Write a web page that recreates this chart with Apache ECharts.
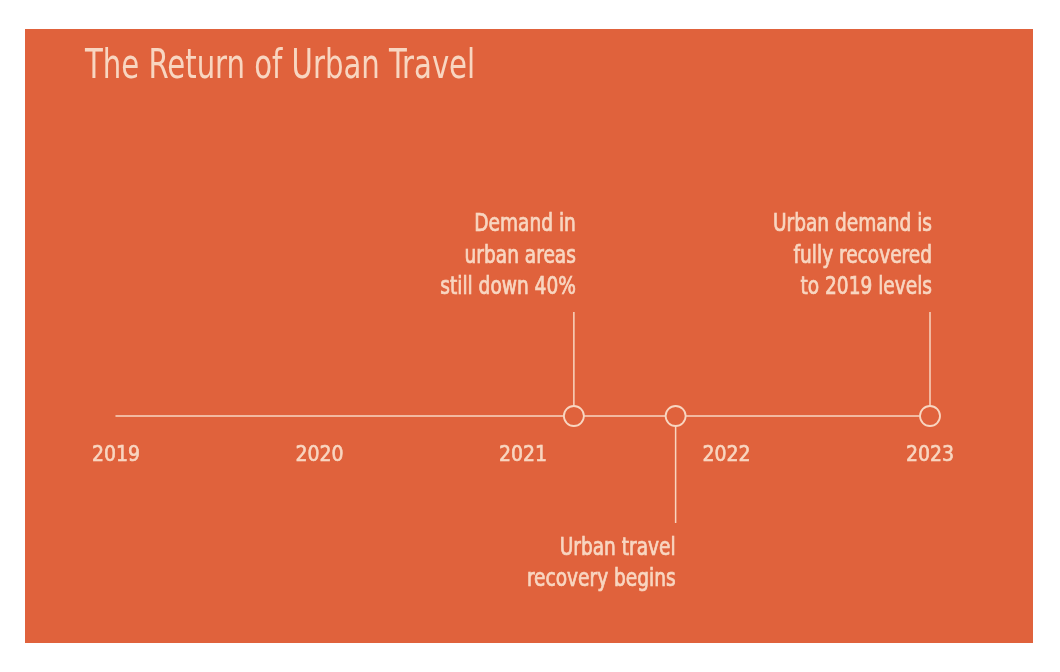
<!DOCTYPE html>
<html>
<head>
<meta charset="utf-8">
<script src="https://cdn.jsdelivr.net/npm/echarts@6/dist/echarts.min.js"></script>
<style>
html,body{margin:0;padding:0;background:#fff;}
#chart{width:1060px;height:672px;}
</style>
</head>
<body>
<div id="chart"></div>
<script>
const titleText = 'The Return of Urban Travel';
const yearTicks = [2019, 2020, 2021, 2022, 2023];
const eventDates = [2021.25, 2021.75, 2023.0];
const eventLabels = [
  'Demand in\nurban areas\nstill down 40%',
  'Urban travel\nrecovery begins',
  'Urban demand is\nfully recovered\nto 2019 levels'
];
const eventSides = ['above', 'below', 'above'];

const ORANGE = '#e0623c';
const CREAM = '#f8d6c1';
const FONT = '"Liberation Sans Narrow", "DejaVu Sans Condensed", sans-serif';

const chart = echarts.init(document.getElementById('chart'));

const eventData = eventDates.map((d, i) => ({ value: [d, 0], label: eventLabels[i], side: eventSides[i] }));

const option = {
  backgroundColor: '#ffffff',
  animation: false,
  graphic: [{
    type: 'rect', z: -10, silent: true,
    shape: { x: 25, y: 29, width: 1008, height: 614 },
    style: { fill: ORANGE }
  }, {
    type: 'text', silent: true, z: 10,
    x: 85, y: 48, scaleX: 0.81,
    style: { text: titleText, x: 0, y: 0, fill: CREAM, font: '40px ' + FONT, align: 'left', verticalAlign: 'top' }
  }],
  grid: { left: 116, right: 1060 - 930, top: 208, height: 208 },
  xAxis: {
    type: 'value',
    min: yearTicks[0], max: yearTicks[yearTicks.length - 1], interval: 1,
    axisLine: { onZero: false, lineStyle: { color: CREAM, width: 1.5 } },
    axisTick: { show: false },
    splitLine: { show: false },
    axisLabel: {
      color: CREAM, fontFamily: FONT, fontSize: 21, margin: 29,
      textBorderColor: CREAM, textBorderWidth: 0.6,
      formatter: v => yearTicks.includes(v) ? String(v) : ''
    }
  },
  yAxis: { type: 'value', min: 0, max: 1, show: false },
  series: [{
    type: 'custom',
    coordinateSystem: 'cartesian2d',
    clip: false,
    data: eventData,
    z: 10,
    renderItem: function (params, api) {
      const d = eventData[params.dataIndex];
      const p = api.coord([api.value(0), api.value(1)]);
      const r = 10;
      const children = [];
      const labelStyle = { x: 0, y: 0, align: 'right', fill: CREAM, stroke: CREAM, lineWidth: 0.7, font: '24px ' + FONT, lineHeight: 31.5 };
      if (d.side === 'above') {
        const top = p[1] - r - 94;
        children.push({ type: 'line', shape: { x1: p[0], y1: p[1] - r, x2: p[0], y2: top }, style: { stroke: CREAM, lineWidth: 1.5 } });
        children.push({ type: 'text', x: p[0] + 2, y: top - 8, scaleX: 0.86, style: Object.assign({ text: d.label, verticalAlign: 'bottom' }, labelStyle) });
      } else {
        const bot = p[1] + r + 97;
        children.push({ type: 'line', shape: { x1: p[0], y1: p[1] + r, x2: p[0], y2: bot }, style: { stroke: CREAM, lineWidth: 1.5 } });
        children.push({ type: 'text', x: p[0], y: bot + 10, scaleX: 0.86, style: Object.assign({ text: d.label, verticalAlign: 'top' }, labelStyle) });
      }
      children.push({ type: 'circle', shape: { cx: p[0], cy: p[1], r: r }, style: { fill: ORANGE, stroke: CREAM, lineWidth: 1.8 } });
      return { type: 'group', children: children };
    }
  }]
};
chart.setOption(option);
</script>
</body>
</html>
